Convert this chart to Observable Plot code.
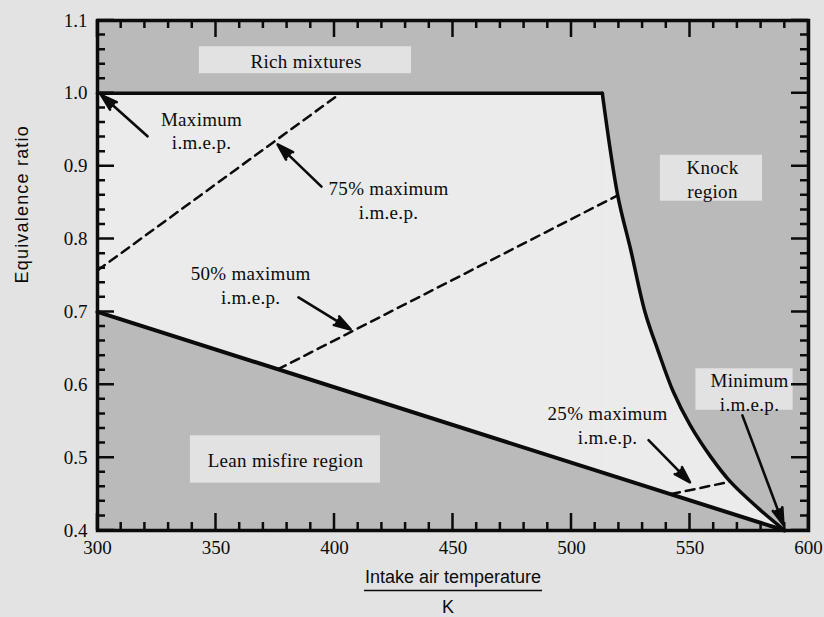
<!DOCTYPE html>
<html>
<head>
<meta charset="utf-8">
<script src="https://cdn.jsdelivr.net/npm/d3@7"></script>
<script src="https://cdn.jsdelivr.net/npm/@observablehq/plot@0.6"></script>
<style>
  html, body { margin: 0; padding: 0; background: #e3e3e3; }
  #chart { width: 824px; height: 617px; }
</style>
</head>
<body>
<div id="chart"></div>
<script>
// Operating limits of a spark-ignition engine: intake air temperature (K) vs equivalence ratio
const richLimit = [
  {T: 300, phi: 1.0},
  {T: 513, phi: 1.0}
];
const knockLimit = [
  {T: 513, phi: 1.0}, {T: 519.5, phi: 0.86}, {T: 525, phi: 0.785},
  {T: 531, phi: 0.70}, {T: 536.5, phi: 0.647}, {T: 543, phi: 0.59},
  {T: 550, phi: 0.545}, {T: 559, phi: 0.50}, {T: 567, phi: 0.467},
  {T: 579, phi: 0.43}, {T: 590, phi: 0.40}
];
const leanLimit = [
  {T: 300, phi: 0.70},
  {T: 590, phi: 0.40}
];

// constant i.m.e.p. contours
const imep75 = [{T: 300, phi: 0.757}, {T: 402.5, phi: 1.0}];
const imep50 = [{T: 376, phi: 0.621}, {T: 519.5, phi: 0.86}];
const imep25 = [{T: 542, phi: 0.450}, {T: 567, phi: 0.467}];

// axis ticks
const xMajor = [300, 350, 400, 450, 500, 550, 600];
const yMajor = [0.4, 0.5, 0.6, 0.7, 0.8, 0.9, 1.0, 1.1];
const xMinor = d3.range(300, 601, 10);
const yMinor = d3.range(40, 111, 2).map(d => d / 100);

// region names (drawn on a plain label patch)
const regionLabels = [
  {text: "Rich mixtures", T: 388, phi: 1.045, T1: 343, T2: 432.5, phi1: 1.027, phi2: 1.064},
  {text: "Knock\nregion", T: 559.5, phi: 0.883, T1: 537.5, T2: 580.6, phi1: 0.852, phi2: 0.915},
  {text: "Lean misfire region", T: 379.3, phi: 0.4975, T1: 339.2, T2: 419.4, phi1: 0.465, phi2: 0.530},
  {text: "Minimum\ni.m.e.p.", T: 575.1, phi: 0.591, T1: 552.5, T2: 593.5, phi1: 0.565, phi2: 0.622}
];
const notes = [
  {text: "Maximum\ni.m.e.p.", T: 343.9, phi: 0.950},
  {text: "75% maximum\ni.m.e.p.", T: 422.8, phi: 0.854},
  {text: "50% maximum\ni.m.e.p.", T: 364.6, phi: 0.738},
  {text: "25% maximum\ni.m.e.p.", T: 515.2, phi: 0.5455}
];
const pointers = [
  {T1: 321.1, phi1: 0.941, T2: 301.5, phi2: 0.998},
  {T1: 394.5, phi1: 0.872, T2: 376, phi2: 0.930},
  {T1: 384.8, phi1: 0.720, T2: 406.8, phi2: 0.676},
  {T1: 532.5, phi1: 0.524, T2: 550, phi2: 0.466},
  {T1: 572.1, phi1: 0.558, T2: 589.4, phi2: 0.408}
];

const phiFloor = 0.4;
const ink = "#0b0b0b";
const shade = "#bababa";
const clear = "#ebebeb";
const patch = "#e2e2e2";
const serif = "Liberation Serif";
const sans = "Liberation Sans";

(function draw() {
  const chart = Plot.plot({
    width: 824,
    height: 617,
    marginLeft: 97,
    marginRight: 16,
    marginTop: 20,
    marginBottom: 87,
    style: {background: "transparent", fontFamily: serif, fontSize: "19px", color: ink},
    x: {domain: [300, 600]},
    y: {domain: [0.4, 1.1]},
    marks: [
      // shaded out-of-bounds background, then the permissible operating region
      Plot.frame({fill: shade, stroke: null}),
      Plot.areaY(richLimit, {x: "T", y1: phiFloor, y2: "phi", fill: clear, stroke: clear, strokeWidth: 1}),
      Plot.areaY(knockLimit, {x: "T", y1: phiFloor, y2: "phi", fill: clear, curve: "catmull-rom"}),
      Plot.areaY(leanLimit, {x: "T", y1: phiFloor, y2: "phi", fill: shade}),

      // label patches
      Plot.rect(regionLabels, {x1: "T1", x2: "T2", y1: "phi1", y2: "phi2", fill: patch}),

      // limit curves
      Plot.line(richLimit, {x: "T", y: "phi", stroke: ink, strokeWidth: 3.5}),
      Plot.line(knockLimit, {x: "T", y: "phi", stroke: ink, strokeWidth: 3.5, curve: "catmull-rom"}),
      Plot.line(leanLimit, {x: "T", y: "phi", stroke: ink, strokeWidth: 4}),

      // i.m.e.p. contours
      Plot.line(imep75, {x: "T", y: "phi", stroke: ink, strokeWidth: 2.5, strokeDasharray: "9,6"}),
      Plot.line(imep50, {x: "T", y: "phi", stroke: ink, strokeWidth: 2.5, strokeDasharray: "9,6"}),
      Plot.line(imep25, {x: "T", y: "phi", stroke: ink, strokeWidth: 2.5, strokeDasharray: "9,6"}),

      // pointers with solid heads
      Plot.arrow(pointers, {x1: "T1", y1: "phi1", x2: "T2", y2: "phi2", stroke: ink, fill: ink, strokeWidth: 2.6, headLength: 10, headAngle: 34}),

      // text
      Plot.text(regionLabels, {x: "T", y: "phi", text: "text", fontFamily: serif, fontSize: 19, lineHeight: 1.25, fill: ink}),
      Plot.text(notes, {x: "T", y: "phi", text: "text", fontFamily: serif, fontSize: 19, lineHeight: 1.25, fill: ink}),

      // axis titles
      Plot.text(["Equivalence ratio"], {frameAnchor: "left", text: d => d, rotate: -90, dx: -75, dy: 8, fontFamily: sans, fontSize: 18, fill: ink}),
      Plot.text(["Intake air temperature"], {frameAnchor: "bottom", text: d => d, dy: 52, fontFamily: sans, fontSize: 18, fill: ink}),
      Plot.text(["K"], {frameAnchor: "bottom", text: d => d, dy: 82, dx: -5, fontFamily: sans, fontSize: 18, fill: ink}),

      // tick labels
      Plot.axisX({ticks: xMajor, anchor: "bottom", tickSize: 0, tickPadding: 10, tickFormat: d3.format("d"), label: null, fontSize: 19, fontFamily: serif}),
      Plot.axisY({ticks: yMajor, anchor: "left", tickSize: 0, tickPadding: 10, tickFormat: d3.format(".1f"), label: null, fontSize: 19, fontFamily: serif}),

      Plot.frame({stroke: ink, strokeWidth: 3.5})
    ]
  });

  document.getElementById("chart").append(chart);
  const svg = d3.select(chart);

  // inward ticks on all four sides, one comb-shaped path per edge,
  // positioned through the plot's own scales
  // (minor every 10 K / 0.02, major every 50 K / 0.1)
  const xScale = chart.scale("x"), yScale = chart.scale("y");
  const sx = v => xScale.apply(v), sy = v => yScale.apply(v);
  const edgeL = sx(xScale.domain[0]), edgeR = sx(xScale.domain[1]);
  const edgeB = sy(yScale.domain[0]), edgeT = sy(yScale.domain[1]);
  const combB = d3.path(), combT = d3.path(), combL = d3.path(), combR = d3.path();
  for (const [values, len] of [[xMinor, 8], [xMajor, 17]]) {
    for (const v of values) {
      combB.moveTo(sx(v), edgeB); combB.lineTo(sx(v), edgeB - len);
      combT.moveTo(sx(v), edgeT); combT.lineTo(sx(v), edgeT + len);
    }
  }
  for (const [values, len] of [[yMinor, 8], [yMajor, 17]]) {
    for (const v of values) {
      combL.moveTo(edgeL, sy(v)); combL.lineTo(edgeL + len, sy(v));
      combR.moveTo(edgeR, sy(v)); combR.lineTo(edgeR - len, sy(v));
    }
  }
  for (const comb of [combB, combT, combL, combR]) {
    svg.append("path")
      .attr("d", comb.toString())
      .attr("fill", "none")
      .attr("stroke", ink)
      .attr("stroke-width", 2.5);
  }

  // letter spacing on the titles, fraction bar under the x title
  svg.selectAll("text").each(function () {
    const t = this.textContent;
    if (t === "Equivalence ratio") d3.select(this).style("letter-spacing", "1.2px");
    if (t === "Intake air temperature") {
      const b = this.getBBox();
      const m = this.getCTM();
      const x0 = m.a * b.x + m.c * b.y + m.e;
      const y0 = m.b * b.x + m.d * b.y + m.f;
      svg.append("line")
        .attr("x1", x0 - 1).attr("x2", x0 + b.width + 1)
        .attr("y1", y0 + b.height + 4).attr("y2", y0 + b.height + 4)
        .attr("stroke", ink).attr("stroke-width", 1.6);
    }
  });
  svg.selectAll("text").filter(function () { return /maximum|Maximum|Minimum|region|mixtures|i\.m\.e\.p\./.test(this.textContent); })
    .style("letter-spacing", "0.3px");
})();
</script>
</body>
</html>
